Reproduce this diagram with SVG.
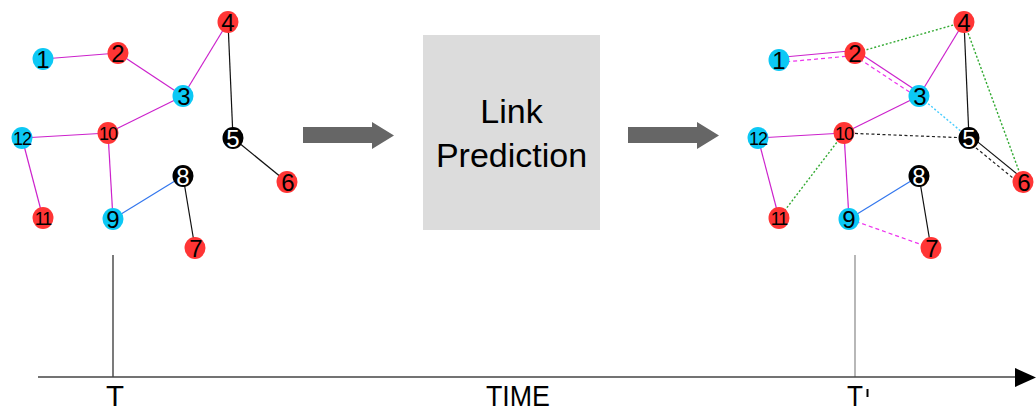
<svg xmlns="http://www.w3.org/2000/svg" width="1036" height="413" viewBox="0 0 1036 413">
  <style>
    .n ellipse { stroke: none; }
    .red { fill: #ff3535; }
    .cyan { fill: #0cc8f5; }
    .blk { fill: #000000; }
    .lbl { font-family: "Liberation Sans", Arial, sans-serif; font-size: 24px; text-anchor: middle; fill: #000; }
    .lbl2 { font-family: "Liberation Sans", Arial, sans-serif; font-size: 18px; letter-spacing: -1px; text-anchor: middle; fill: #000; }
    .wh { fill: #ffffff; }
    .e { stroke-width: 1.2; fill: none; }
    .mag { stroke: #cc22cc; }
    .blu { stroke: #3377ee; }
    .bk { stroke: #111111; }
    .dmag { stroke: #ee33ee; stroke-dasharray: 4 3; }
    .dgrn { stroke: #33aa33; stroke-dasharray: 2 2; stroke-width: 1.4; }
    .dcya { stroke: #44ccff; stroke-dasharray: 2 2; stroke-width: 1.4; }
    .dblk { stroke: #222222; stroke-dasharray: 3 2.5; }
    .arrow { fill: #666666; }
    .axis { font-family: "Liberation Sans", Arial, sans-serif; font-size: 30px; fill: #000; }
  </style>

  <!-- connectors -->
  <g id="connectors">
    <!-- graph at time T -->
    <line class="e mag" x1="43" y1="59" x2="118" y2="53"/>
    <line class="e mag" x1="118" y1="53" x2="183" y2="96"/>
    <line class="e mag" x1="183" y1="96" x2="228" y2="22"/>
    <line class="e mag" x1="183" y1="96" x2="108" y2="133"/>
    <line class="e mag" x1="108" y1="133" x2="22" y2="138"/>
    <line class="e mag" x1="22" y1="138" x2="43" y2="218"/>
    <line class="e mag" x1="108" y1="133" x2="113" y2="219"/>
    <line class="e blu" x1="113" y1="219" x2="183" y2="176"/>
    <line class="e bk" x1="183" y1="176" x2="195" y2="248"/>
    <line class="e bk" x1="228" y1="22" x2="233" y2="138"/>
    <line class="e bk" x1="233" y1="138" x2="287" y2="182"/>

    <!-- graph at time T' : existing links -->
    <line class="e mag" x1="778.8" y1="57.5" x2="854.8" y2="50.5"/>
    <line class="e mag" x1="856.4" y1="50.9" x2="921.4" y2="93.9"/>
    <line class="e mag" x1="919" y1="96" x2="964" y2="22"/>
    <line class="e mag" x1="919" y1="96" x2="844" y2="133"/>
    <line class="e mag" x1="844" y1="133" x2="758" y2="138"/>
    <line class="e mag" x1="758" y1="138" x2="779" y2="218"/>
    <line class="e mag" x1="844" y1="133" x2="849" y2="219"/>
    <line class="e blu" x1="849" y1="219" x2="919" y2="176"/>
    <line class="e bk" x1="919" y1="176" x2="931" y2="248"/>
    <line class="e bk" x1="964" y1="22" x2="969" y2="138"/>
    <line class="e bk" x1="970.6" y1="136.1" x2="1024.6" y2="180.1"/>

    <!-- graph at time T' : predicted links -->
    <line class="e dmag" x1="779.2" y1="62.5" x2="855.2" y2="55.5"/>
    <line class="e dmag" x1="853.6" y1="55.1" x2="918.6" y2="98.1"/>
    <line class="e dmag" x1="849" y1="219" x2="931" y2="248"/>
    <line class="e dgrn" x1="855" y1="53" x2="964" y2="22"/>
    <line class="e dgrn" x1="964" y1="22" x2="1023" y2="182"/>
    <line class="e dgrn" x1="844" y1="133" x2="779" y2="218"/>
    <line class="e dcya" x1="919" y1="96" x2="969" y2="138"/>
    <line class="e dblk" x1="844" y1="133" x2="969" y2="138"/>
    <line class="e dblk" x1="967.4" y1="140.9" x2="1021.4" y2="184.9"/>
  </g>

  <!-- nodes at time T -->
  <g id="t0-n1" class="n"><ellipse class="cyan" cx="43" cy="59" rx="10.5" ry="11"/><text class="lbl" x="43" y="67.5">1</text></g>
  <g id="t0-n2" class="n"><ellipse class="red" cx="118" cy="53" rx="10.5" ry="11"/><text class="lbl" x="118" y="61.5">2</text></g>
  <g id="t0-n3" class="n"><ellipse class="cyan" cx="183" cy="96" rx="10.5" ry="11"/><text class="lbl" x="184" y="104.5">3</text></g>
  <g id="t0-n4" class="n"><ellipse class="red" cx="228" cy="22" rx="10.5" ry="11"/><text class="lbl" x="228" y="30.5">4</text></g>
  <g id="t0-n5" class="n"><ellipse class="blk" cx="233" cy="138" rx="10.5" ry="11"/><text class="lbl wh" x="233" y="146.5">5</text></g>
  <g id="t0-n6" class="n"><ellipse class="red" cx="287" cy="182" rx="10.5" ry="11"/><text class="lbl" x="288" y="190.5">6</text></g>
  <g id="t0-n7" class="n"><ellipse class="red" cx="195" cy="248" rx="10.5" ry="11"/><text class="lbl" x="196" y="256.5">7</text></g>
  <g id="t0-n8" class="n"><ellipse class="blk" cx="183" cy="176" rx="10.5" ry="11"/><text class="lbl wh" x="183" y="184.5">8</text></g>
  <g id="t0-n9" class="n"><ellipse class="cyan" cx="113" cy="219" rx="10.5" ry="11"/><text class="lbl" x="113" y="227.5">9</text></g>
  <g id="t0-n10" class="n"><ellipse class="red" cx="108" cy="133" rx="10.5" ry="11"/><text class="lbl2" x="108" y="139.5">10</text></g>
  <g id="t0-n11" class="n"><ellipse class="red" cx="43" cy="218" rx="10.5" ry="11"/><text class="lbl2" x="43" y="224.5">11</text></g>
  <g id="t0-n12" class="n"><ellipse class="cyan" cx="22" cy="138" rx="10.5" ry="11"/><text class="lbl2" x="22" y="144.5">12</text></g>

  <!-- nodes at time T' -->
  <g id="t1-n1" class="n"><ellipse class="cyan" cx="779" cy="60" rx="10.5" ry="11"/><text class="lbl" x="779" y="68.5">1</text></g>
  <g id="t1-n2" class="n"><ellipse class="red" cx="855" cy="53" rx="10.5" ry="11"/><text class="lbl" x="855" y="61.5">2</text></g>
  <g id="t1-n3" class="n"><ellipse class="cyan" cx="919" cy="96" rx="10.5" ry="11"/><text class="lbl" x="920" y="104.5">3</text></g>
  <g id="t1-n4" class="n"><ellipse class="red" cx="964" cy="22" rx="10.5" ry="11"/><text class="lbl" x="964" y="30.5">4</text></g>
  <g id="t1-n5" class="n"><ellipse class="blk" cx="969" cy="138" rx="10.5" ry="11"/><text class="lbl wh" x="969" y="146.5">5</text></g>
  <g id="t1-n6" class="n"><ellipse class="red" cx="1023" cy="182" rx="10.5" ry="11"/><text class="lbl" x="1024" y="190.5">6</text></g>
  <g id="t1-n7" class="n"><ellipse class="red" cx="931" cy="248" rx="10.5" ry="11"/><text class="lbl" x="932" y="256.5">7</text></g>
  <g id="t1-n8" class="n"><ellipse class="blk" cx="919" cy="176" rx="10.5" ry="11"/><text class="lbl wh" x="919" y="184.5">8</text></g>
  <g id="t1-n9" class="n"><ellipse class="cyan" cx="849" cy="219" rx="10.5" ry="11"/><text class="lbl" x="849" y="227.5">9</text></g>
  <g id="t1-n10" class="n"><ellipse class="red" cx="844" cy="133" rx="10.5" ry="11"/><text class="lbl2" x="844" y="139.5">10</text></g>
  <g id="t1-n11" class="n"><ellipse class="red" cx="779" cy="218" rx="10.5" ry="11"/><text class="lbl2" x="779" y="224.5">11</text></g>
  <g id="t1-n12" class="n"><ellipse class="cyan" cx="758" cy="138" rx="10.5" ry="11"/><text class="lbl2" x="758" y="144.5">12</text></g>

  <!-- process arrows -->
  <g id="arrow-in"><polygon class="arrow" points="303,127 372,127 372,122 394,135.5 372,149 372,143 303,143"/></g>
  <g id="arrow-out"><polygon class="arrow" points="628,127 697,127 697,122 719,135.5 697,149 697,143 628,143"/></g>

  <!-- link prediction box -->
  <g id="link-prediction">
    <rect x="423" y="35" width="177" height="195" fill="#dcdcdc"/>
    <text x="511.5" y="123" font-family="Liberation Sans, Arial, sans-serif" font-size="34" text-anchor="middle">Link</text>
    <text x="511.5" y="167" font-family="Liberation Sans, Arial, sans-serif" font-size="34" text-anchor="middle">Prediction</text>
  </g>

  <!-- time axis -->
  <g id="time-axis">
    <line x1="113" y1="255" x2="113" y2="377" stroke="#222" stroke-width="1.2"/>
    <line x1="855" y1="255" x2="855" y2="377" stroke="#888" stroke-width="1.2"/>
    <line x1="38" y1="377" x2="1016" y2="377" stroke="#444" stroke-width="1.4"/>
    <polygon points="1015,368 1036,377.5 1015,387" fill="#000"/>
    <text class="axis" x="106" y="406" textLength="18" lengthAdjust="spacingAndGlyphs">T</text>
    <text class="axis" x="486" y="406" textLength="64" lengthAdjust="spacingAndGlyphs">TIME</text>
    <text class="axis" x="847" y="406" textLength="16" lengthAdjust="spacingAndGlyphs">T</text>
    <line x1="867.5" y1="389" x2="867.5" y2="397" stroke="#000" stroke-width="2"/>
  </g>
</svg>
